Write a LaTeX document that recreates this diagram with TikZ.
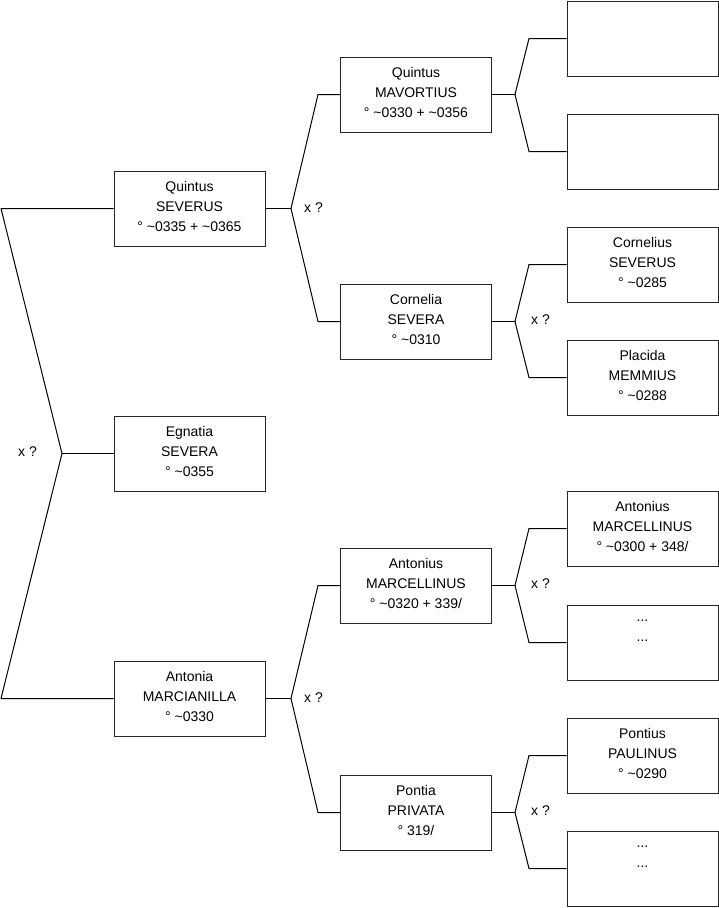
\documentclass[tikz,border=0pt]{standalone}
\usepackage{fontspec}
\setmainfont{Liberation Sans}
\begin{document}
\begin{tikzpicture}[x=1pt,y=-1pt,
 box/.style={draw=black!85, line width=1pt, minimum width=151pt, minimum height=75pt, inner sep=0pt, align=center, font=\fontsize{14}{20}\selectfont, execute at end node={\rule[-3.5pt]{0pt}{0pt}}},
 conn/.style={line width=1pt, line join=bevel},
 lbl/.style={anchor=west, inner sep=0pt, font=\fontsize{14}{16}\selectfont}]
\useasboundingbox (0,0) rectangle (719,908);
% column 1
\node[box] (qs) at (189.5,208.5) {Quintus\\SEVERUS\\° \textasciitilde0335 + \textasciitilde0365};
\node[box] (es) at (189.5,453.5) {Egnatia\\SEVERA\\° \textasciitilde0355};
\node[box] (am) at (189.5,698.5) {Antonia\\MARCIANILLA\\° \textasciitilde0330};
% column 2
\node[box] (qm) at (416,94.5) {Quintus\\MAVORTIUS\\° \textasciitilde0330 + \textasciitilde0356};
\node[box] (cs) at (416,321.5) {Cornelia\\SEVERA\\° \textasciitilde0310};
\node[box] (amc) at (416,585.5) {Antonius\\MARCELLINUS\\° \textasciitilde0320 + 339/};
\node[box] (pp) at (416,812.5) {Pontia\\PRIVATA\\° 319/};
% column 3
\node[box] (e1) at (642.5,38.5) {};
\node[box] (e2) at (642.5,151.5) {};
\node[box] (cse) at (642.5,264.5) {Cornelius\\SEVERUS\\° \textasciitilde0285};
\node[box] (pm) at (642.5,377.5) {Placida\\MEMMIUS\\° \textasciitilde0288};
\node[box] (amo) at (642.5,528.5) {Antonius\\MARCELLINUS\\° \textasciitilde0300 + 348/};
\node[box] (d1) at (642.5,642.5) {...\\...\\\mbox{}};
\node[box] (pau) at (642.5,755.5) {Pontius\\PAULINUS\\° \textasciitilde0290};
\node[box] (d2) at (642.5,868.5) {...\\...\\\mbox{}};
% left fork
\coordinate (lt) at (1,208.5);
\coordinate (lm) at (62,453.5);
\coordinate (lb) at (1,698.5);
\draw[conn] (qs.west) -- (lt) -- (lm) -- (lb) -- (am.west);
\draw[conn] (lm) -- (es.west);
\node[lbl] (x0) at (18,451.5) {x ?};
% fork qs
\coordinate (f1) at (291,208.5);
\coordinate (f1a) at (318,94.5);
\coordinate (f1b) at (318,321.5);
\draw[conn] (qs.east) -- (f1);
\draw[conn] (qm.west) -- (f1a) -- (f1) -- (f1b) -- (cs.west);
\node[lbl] (x1) at (304,207.5) {x ?};
% fork am
\coordinate (f2) at (291,698.5);
\coordinate (f2a) at (318,585.5);
\coordinate (f2b) at (318,812.5);
\draw[conn] (am.east) -- (f2);
\draw[conn] (amc.west) -- (f2a) -- (f2) -- (f2b) -- (pp.west);
\node[lbl] (x2) at (304,697.5) {x ?};
% fork qm
\coordinate (f3) at (515,94.5);
\coordinate (f3a) at (529,38.5);
\coordinate (f3b) at (529,151.5);
\draw[conn] (qm.east) -- (f3);
\draw[conn] (e1.west) -- (f3a) -- (f3) -- (f3b) -- (e2.west);
% fork cs
\coordinate (f4) at (515,321.5);
\coordinate (f4a) at (529,264.5);
\coordinate (f4b) at (529,377.5);
\draw[conn] (cs.east) -- (f4);
\draw[conn] (cse.west) -- (f4a) -- (f4) -- (f4b) -- (pm.west);
\node[lbl] (x4) at (531,320) {x ?};
% fork amc
\coordinate (f5) at (515,585.5);
\coordinate (f5a) at (529,528.5);
\coordinate (f5b) at (529,642.5);
\draw[conn] (amc.east) -- (f5);
\draw[conn] (amo.west) -- (f5a) -- (f5) -- (f5b) -- (d1.west);
\node[lbl] (x5) at (531,583.5) {x ?};
% fork pp
\coordinate (f6) at (515,812.5);
\coordinate (f6a) at (529,755.5);
\coordinate (f6b) at (529,868.5);
\draw[conn] (pp.east) -- (f6);
\draw[conn] (pau.west) -- (f6a) -- (f6) -- (f6b) -- (d2.west);
\node[lbl] (x6) at (531,810.5) {x ?};
\end{tikzpicture}
\end{document}
